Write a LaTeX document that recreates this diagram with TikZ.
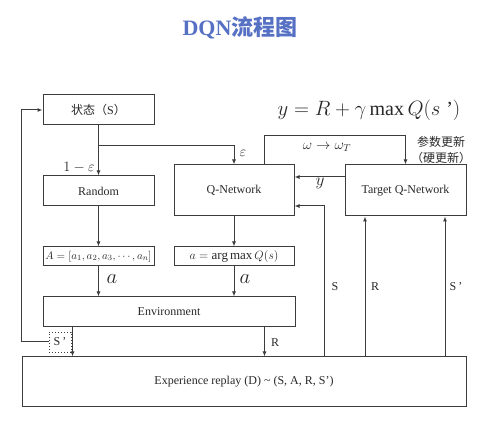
\documentclass[tikz,border=0pt]{standalone}
\usepackage{fontspec}
\setmainfont{Liberation Serif}
\newfontfamily\cjk{Noto Sans CJK SC}
\usetikzlibrary{arrows.meta}
\definecolor{ttl}{RGB}{86,112,196}
\definecolor{ln}{RGB}{60,60,60}
\definecolor{tx}{RGB}{40,40,40}
\tikzset{
  box/.style={draw=ln, line width=1pt, inner sep=0pt, text=tx, font=\fontsize{12}{14}\selectfont},
  arr/.style={draw=ln, line width=1pt, -{Latex[length=5pt,width=4pt]}},
  lbl/.style={text=tx, inner sep=0pt, font=\fontsize{12}{14}\selectfont},
}
\begin{document}
\begin{tikzpicture}[x=1pt,y=-1pt]
\useasboundingbox (0,0) rectangle (477,430);
\node[text=ttl, font=\fontsize{22}{26}\selectfont\bfseries] (title) at (240,28) {DQN{\cjk 流程图}};
\node[box, minimum width=111pt, minimum height=30pt] (state) at (98.5,110) {{\cjk 状态（}S{\cjk ）}};
\node[box, minimum width=111pt, minimum height=30pt] (random) at (98.5,191) {Random};
\node[box, minimum width=120pt, minimum height=51pt] (qnet) at (234,190.5) {Q-Network};
\node[box, minimum width=121pt, minimum height=51pt] (target) at (405.5,190.5) {Target Q-Network};
\node[box, minimum width=111pt, minimum height=19pt, font=\fontsize{11}{13}\selectfont] (abox) at (98.5,256.5) {$A=[a_1,a_2,a_3,\cdots,a_n]$};
\node[box, minimum width=120pt, minimum height=19pt, font=\fontsize{13}{15}\selectfont] (amax) at (234,256.5) {$a=\arg\max Q(s)$};
\node[box, minimum width=252pt, minimum height=30pt] (env) at (169,312) {Environment};
\node[box, minimum width=444pt, minimum height=50pt] (replay) at (244,382) {Experience replay (D) \textasciitilde{} (S, A, R, S’)};
\node[box, dotted, line width=0.9pt, minimum width=22pt, minimum height=20pt] (sp) at (60,342) {S\,’};
\coordinate (br) at (98.5,146);
% equation
\node[lbl, font=\fontsize{20}{24}\selectfont] (eq) at (369,110) {$y=R+\gamma\max Q(s\;$’$)$};
% connectors
\draw[arr] (state) -- (random);
\draw[arr] (br) -| (qnet.north);
\draw[arr] (random) -- (abox);
\draw[arr] (abox.south) -- (abox.south |- env.north);
\draw[arr] (qnet) -- (amax);
\draw[arr] (amax.south) -- (amax.south |- env.north);
\draw[arr] ([xshift=30pt]env.south west) -- ([xshift=30pt]env.south west |- replay.north);
\draw[arr] ([xshift=-31pt]env.south east) -- ([xshift=-31pt]env.south east |- replay.north);
\draw[arr] (sp.west) -- ++(-27,0) |- (state.west);
\draw[arr] ([xshift=30pt]qnet.north) -- ++(0,-29) -| (target.north);
\draw[arr] ([yshift=13.5pt]target.west) -- ([yshift=13.5pt]qnet.east);
\draw[arr] ([xshift=80pt]replay.north) |- ([yshift=-15.5pt]qnet.east);
\draw[arr] ([xshift=121pt]replay.north) -- ([xshift=-40.5pt]target.south);
\draw[arr] ([xshift=201pt]replay.north) -- ([xshift=39.5pt]target.south);
% labels
\node[lbl, font=\fontsize{14}{16}\selectfont] (l1) at (79,167) {$1-\varepsilon$};
\node[lbl, font=\fontsize{15}{17}\selectfont] (l2) at (243,153) {$\varepsilon$};
\node[lbl, font=\fontsize{14}{16}\selectfont] (l3) at (327,147) {$\omega\rightarrow\omega_T$};
\node[lbl] (l4) at (441,142) {\cjk 参数更新};
\node[lbl] (l5) at (441,158) {\cjk （硬更新）};
\node[lbl, font=\fontsize{17}{20}\selectfont] (l6) at (320,183) {$y$};
\node[lbl, font=\fontsize{20}{24}\selectfont] (l7) at (112,279) {$a$};
\node[lbl, font=\fontsize{20}{24}\selectfont] (l8) at (245,279) {$a$};
\node[lbl] (l9) at (335,287) {S};
\node[lbl] (l10) at (375,287) {R};
\node[lbl] (l11) at (456,287) {S\,’};
\node[lbl] (l12) at (275,343) {R};
\end{tikzpicture}
\end{document}
